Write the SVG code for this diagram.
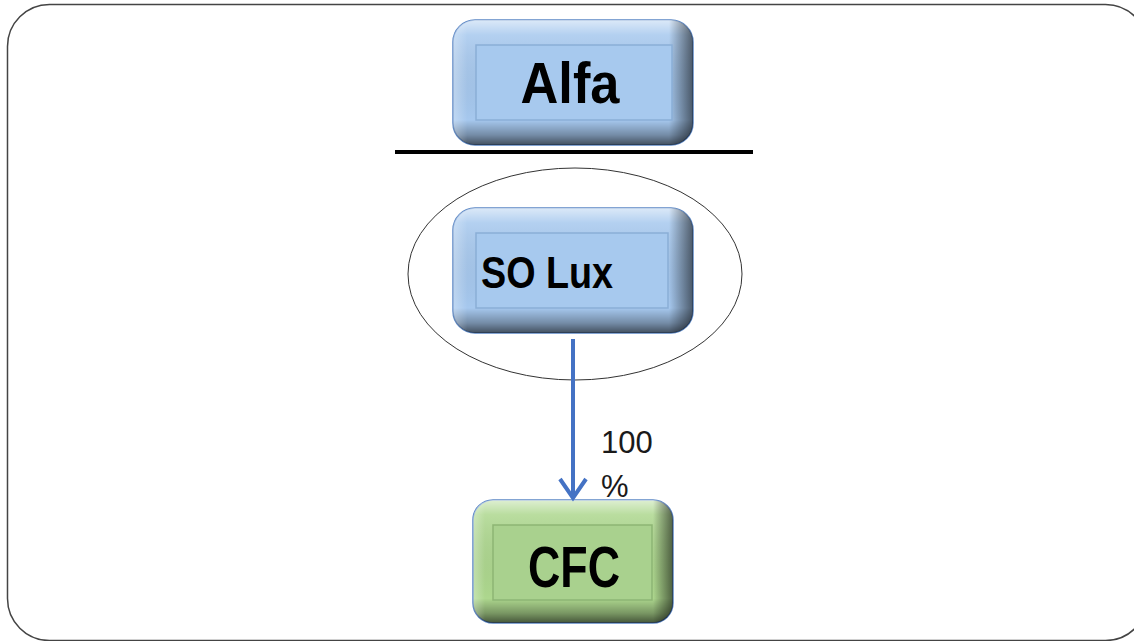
<svg xmlns="http://www.w3.org/2000/svg" width="1134" height="641" viewBox="0 0 1134 641">
<defs>
<linearGradient id="bv" x1="0" y1="0" x2="0" y2="1">
<stop offset="0" stop-color="#ffffff" stop-opacity="0.6"/>
<stop offset="0.12" stop-color="#ffffff" stop-opacity="0.15"/>
<stop offset="0.8" stop-color="#000000" stop-opacity="0"/>
<stop offset="0.92" stop-color="#000000" stop-opacity="0.3"/>
<stop offset="1" stop-color="#000000" stop-opacity="0.6"/>
</linearGradient>
<linearGradient id="bh" x1="0" y1="0" x2="1" y2="0">
<stop offset="0" stop-color="#ffffff" stop-opacity="0.3"/>
<stop offset="0.06" stop-color="#ffffff" stop-opacity="0"/>
<stop offset="0.9" stop-color="#000000" stop-opacity="0"/>
<stop offset="1" stop-color="#000000" stop-opacity="0.55"/>
</linearGradient>
<marker id="arr" viewBox="0 0 30 30" refX="22" refY="15" markerWidth="30" markerHeight="30" markerUnits="userSpaceOnUse" orient="auto">
<path d="M3,2 L22,15 L3,28" fill="none" stroke="#4472C4" stroke-width="4" stroke-linejoin="miter"/>
</marker>
<style>
.blue{fill:#A6C8EE;stroke:#5B87C5;stroke-width:1.5}
.green{fill:#ADD78E;stroke:#5B87C5;stroke-width:1.5}
.inb{fill:#A7C9EE;stroke:#8AAED6;stroke-width:1.5}
.ing{fill:#A9D18E;stroke:#8DB574;stroke-width:1.5}
.lbl{font-family:"Liberation Sans",Arial,sans-serif;font-weight:bold;fill:#000}
.pct{font-family:"Liberation Sans",Arial,sans-serif;font-size:31px;fill:#1a1a1a}
</style>
</defs>
<rect x="7.5" y="4.5" width="1140" height="636" rx="42" ry="42" fill="#ffffff" stroke="#444" stroke-width="1.5"/>
<line x1="395" y1="152" x2="753" y2="152" stroke="#000" stroke-width="4"/>
<ellipse cx="575" cy="274" rx="167" ry="106" fill="none" stroke="#333" stroke-width="1"/>
<g id="alfa">
<rect class="blue" x="453" y="20" width="240" height="125" rx="22"/>
<rect x="453" y="20" width="240" height="125" rx="22" fill="url(#bv)"/>
<rect x="453" y="20" width="240" height="125" rx="22" fill="url(#bh)"/>
<rect class="inb" x="476" y="45" width="196" height="75"/>
<text class="lbl" x="570" y="103" font-size="58" text-anchor="middle" textLength="99" lengthAdjust="spacingAndGlyphs">Alfa</text>
</g>
<g id="solux">
<rect class="blue" x="453" y="208" width="240" height="125" rx="22"/>
<rect x="453" y="208" width="240" height="125" rx="22" fill="url(#bv)"/>
<rect x="453" y="208" width="240" height="125" rx="22" fill="url(#bh)"/>
<rect class="inb" x="476" y="233" width="192" height="75"/>
<text class="lbl" x="481" y="288" font-size="44" textLength="132" lengthAdjust="spacingAndGlyphs">SO Lux</text>
</g>
<g id="cfc">
<rect class="green" x="473" y="500" width="200" height="123" rx="20"/>
<rect x="473" y="500" width="200" height="123" rx="20" fill="url(#bv)"/>
<rect x="473" y="500" width="200" height="123" rx="20" fill="url(#bh)"/>
<rect class="ing" x="493" y="525" width="159" height="75"/>
<text class="lbl" x="574" y="587" font-size="58" text-anchor="middle" textLength="92" lengthAdjust="spacingAndGlyphs">CFC</text>
</g>
<g id="connectors">
<line x1="573" y1="339" x2="573" y2="498" stroke="#4472C4" stroke-width="4" marker-end="url(#arr)"/>
<text class="pct" x="601" y="453">100</text>
<text class="pct" x="601" y="497">%</text>
</g>
</svg>
